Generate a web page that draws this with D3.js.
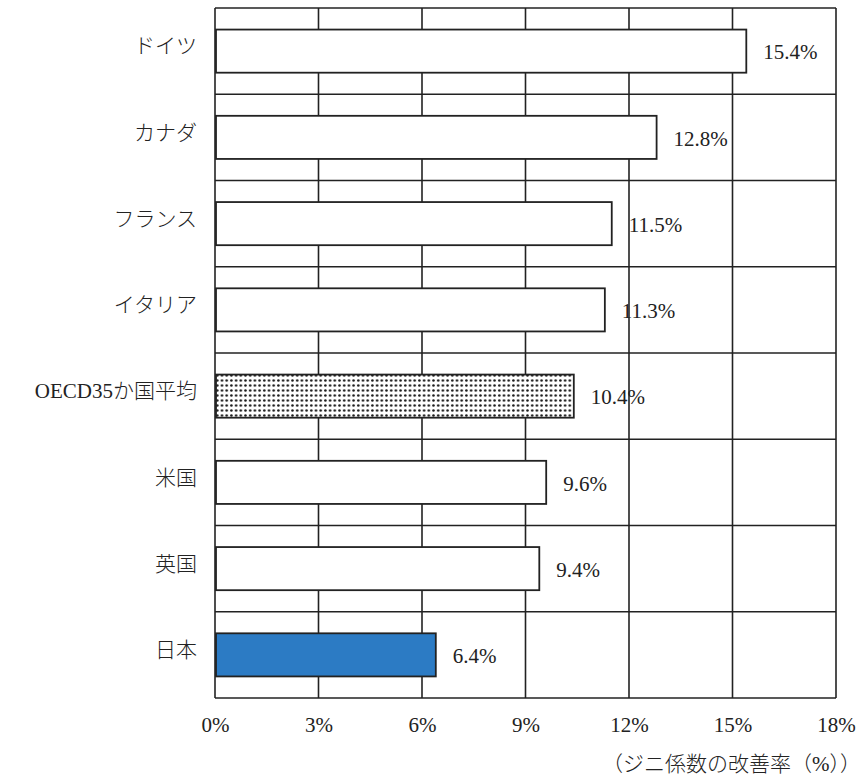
<!DOCTYPE html>
<html lang="ja">
<head>
<meta charset="utf-8">
<script src="https://cdn.jsdelivr.net/npm/d3@7"></script>
<style>
  html, body { margin: 0; padding: 0; background: #fff; }
  svg { display: block; }
  text { font-family: "Liberation Serif", "Noto Sans CJK JP", serif; fill: #222; }
</style>
</head>
<body>
<svg id="chart" width="863" height="780"></svg>
<script>
// ジニ係数の改善率（再分配による）
const categories = ["ドイツ", "カナダ", "フランス", "イタリア", "OECD35か国平均", "米国", "英国", "日本"];
const values = [15.4, 12.8, 11.5, 11.3, 10.4, 9.6, 9.4, 6.4];
const xTicks = [0, 3, 6, 9, 12, 15, 18];
const axisTitle = "（ジニ係数の改善率（%））";

const svg = d3.select("#chart");
const margin = { top: 8, right: 27, bottom: 82, left: 215 };
const W = +svg.attr("width"), H = +svg.attr("height");
const innerW = W - margin.left - margin.right;
const innerH = H - margin.top - margin.bottom;

const x = d3.scaleLinear().domain([0, 18]).range([0, innerW]);
const y = d3.scaleBand().domain(categories).range([0, innerH]).paddingInner(0.5).paddingOuter(0.25);

// dotted fill for the OECD average bar
const defs = svg.append("defs");
const pat = defs.append("pattern")
  .attr("id", "dots").attr("patternUnits", "userSpaceOnUse")
  .attr("width", 9.4).attr("height", 10);
pat.append("rect").attr("width", 9.4).attr("height", 10).attr("fill", "#fff");
[[2.3, 2.5], [7, 2.5], [2.3, 7.5], [7, 7.5]].forEach(([cx, cy]) =>
  pat.append("circle").attr("cx", cx).attr("cy", cy).attr("r", 1.25).attr("fill", "#1a1a1a"));

const g = svg.append("g").attr("transform", `translate(${margin.left},${margin.top})`);

// vertical grid lines at each tick
g.selectAll("line.vgrid").data(xTicks).join("line")
  .attr("class", "vgrid")
  .attr("x1", d => x(d)).attr("x2", d => x(d))
  .attr("y1", 0).attr("y2", innerH)
  .attr("stroke", "#222").attr("stroke-width", 1.6);

// horizontal lines separating the categories
const rowEdges = d3.range(categories.length + 1).map(i => i * innerH / categories.length);
g.selectAll("line.hgrid").data(rowEdges).join("line")
  .attr("class", "hgrid")
  .attr("x1", 0).attr("x2", innerW)
  .attr("y1", d => d).attr("y2", d => d)
  .attr("stroke", "#222").attr("stroke-width", 1.6);

// bars
const fills = categories.map(c => c === "日本" ? "#2c7bc4" : (c === "OECD35か国平均" ? "url(#dots)" : "#fff"));
g.selectAll("rect.bar").data(categories).join("rect")
  .attr("class", "bar")
  .attr("x", 1)
  .attr("y", d => y(d))
  .attr("width", (d, i) => x(values[i]) - 1)
  .attr("height", y.bandwidth())
  .attr("fill", (d, i) => fills[i])
  .attr("stroke", "#222").attr("stroke-width", 1.8);

// value labels
g.selectAll("text.val").data(categories).join("text")
  .attr("class", "val")
  .attr("x", (d, i) => x(values[i]) + 17)
  .attr("y", d => y(d) + y.bandwidth() / 2 + 1)
  .attr("dy", "0.35em")
  .attr("font-size", 21)
  .text((d, i) => values[i].toFixed(1) + "%");

// category labels
g.selectAll("text.cat").data(categories).join("text")
  .attr("class", "cat")
  .attr("x", -18)
  .attr("y", d => y(d) + y.bandwidth() / 2 - 5)
  .attr("dy", "0.35em")
  .attr("text-anchor", "end")
  .attr("font-size", 21)
  .attr("font-weight", 300)
  .text(d => d);

// x axis tick labels
const xAxis = d3.axisBottom(x).tickValues(xTicks).tickSize(0).tickPadding(19).tickFormat(d => d + "%");
const ax = g.append("g").attr("transform", `translate(0,${innerH})`).call(xAxis);
ax.select(".domain").remove();
ax.selectAll("text").attr("font-size", 21).attr("fill", "#222")
  .style("font-family", "'Liberation Serif', 'Noto Sans CJK JP', serif");

// axis title
svg.append("text")
  .attr("x", W - 2).attr("y", 771)
  .attr("text-anchor", "end")
  .attr("font-size", 21)
  .attr("font-weight", 300)
  .text(axisTitle);
</script>
</body>
</html>
